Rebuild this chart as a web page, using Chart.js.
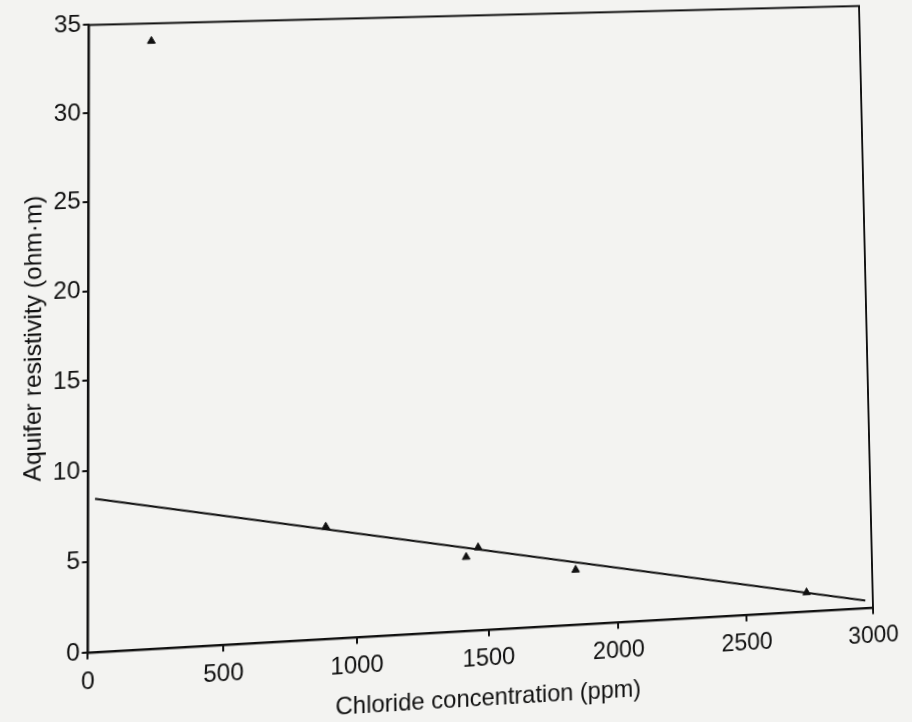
<!DOCTYPE html>
<html>
<head>
<meta charset="utf-8">
<script src="https://cdn.jsdelivr.net/npm/chart.js@4"></script>
<style>
  html, body { margin: 0; padding: 0; background: #f3f3f1; }
  #wrap { position: relative; width: 912px; height: 722px; overflow: hidden; }
  canvas { position: absolute; left: 0; top: 0; transform-origin: 0 0; }
</style>
</head>
<body>
<div id="wrap"><canvas id="chart" width="912" height="722"></canvas></div>
<script>
// data
const pointX = [234, 885, 1417, 1463, 1837, 2738];
const pointY = [34.0, 6.25, 4.15, 4.65, 3.1, 1.1];
const fitX = [25, 2970];
const fitY = [8.45, 0.45];
const xTickValues = [0, 500, 1000, 1500, 2000, 2500, 3000];
const yTickValues = [0, 5, 10, 15, 20, 25, 30, 35];
const xTitle = 'Chloride concentration (ppm)';
const yTitle = 'Aquifer resistivity (ohm·m)';

// page corners of the plot box in the (tilted) scan: TL, TR, BR, BL
const boxCorners = [[89, 25], [859, 6], [873, 608], [88, 653]];

const ink = '#111';
const font = { family: '"Liberation Sans", Arial, sans-serif', size: 24 };

// draws the closed box round the plot
const framePlugin = {
  id: 'frame',
  afterDraw(chart) {
    const { ctx, chartArea: a } = chart;
    ctx.save();
    ctx.strokeStyle = ink;
    ctx.lineWidth = 2;
    ctx.strokeRect(a.left, a.top, a.right - a.left, a.bottom - a.top);
    ctx.restore();
  }
};

function axisOpts(min, max, values, title, pad) {
  return {
    type: 'linear',
    min: min,
    max: max,
    afterBuildTicks: axis => { axis.ticks = values.map(v => ({ value: v })); },
    ticks: { font: font, color: ink, padding: pad, maxRotation: 0, callback: v => String(v) },
    grid: { display: true, drawOnChartArea: false, drawTicks: true, tickLength: 6, color: ink, lineWidth: 2 },
    border: { display: true, color: ink, width: 2 },
    title: { display: true, text: title, font: font, color: ink, padding: { top: 2, bottom: 2 } }
  };
}

// solve A x = b (gauss, partial pivot)
function solve(A, b) {
  const n = b.length;
  const M = A.map((r, i) => r.concat([b[i]]));
  for (let c = 0; c < n; c++) {
    let p = c;
    for (let r = c + 1; r < n; r++) if (Math.abs(M[r][c]) > Math.abs(M[p][c])) p = r;
    [M[c], M[p]] = [M[p], M[c]];
    for (let r = 0; r < n; r++) {
      if (r === c) continue;
      const f = M[r][c] / M[c][c];
      for (let k = c; k <= n; k++) M[r][k] -= f * M[c][k];
    }
  }
  return M.map((r, i) => r[n] / r[i]);
}

// css matrix3d taking 4 src points onto 4 dst points
function homography(src, dst) {
  const A = [], b = [];
  for (let i = 0; i < 4; i++) {
    const [x, y] = src[i], [X, Y] = dst[i];
    A.push([x, y, 1, 0, 0, 0, -x * X, -y * X]); b.push(X);
    A.push([0, 0, 0, x, y, 1, -x * Y, -y * Y]); b.push(Y);
  }
  const h = solve(A, b);
  return `matrix3d(${h[0]},${h[3]},0,${h[6]},${h[1]},${h[4]},0,${h[7]},0,0,1,0,${h[2]},${h[5]},0,1)`;
}

const canvas = document.getElementById('chart');
const chart = new Chart(canvas.getContext('2d'), {
  type: 'scatter',
  data: {
    datasets: [
      {
        label: 'fit',
        data: fitX.map((x, i) => ({ x: x, y: fitY[i] })),
        showLine: true,
        borderColor: ink,
        borderWidth: 2,
        pointRadius: 0,
        fill: false
      },
      {
        label: 'samples',
        data: pointX.map((x, i) => ({ x: x, y: pointY[i] })),
        pointStyle: 'triangle',
        pointRadius: 4.5,
        backgroundColor: ink,
        borderColor: ink,
        borderWidth: 1
      }
    ]
  },
  options: {
    responsive: false,
    animation: false,
    devicePixelRatio: 1,
    layout: { padding: { left: 6, right: 40, top: 12, bottom: 8 } },
    plugins: { legend: { display: false }, tooltip: { enabled: false } },
    scales: {
      x: axisOpts(0, 3000, xTickValues, xTitle, 8),
      y: axisOpts(0, 35, yTickValues, yTitle, 2)
    }
  },
  plugins: [framePlugin]
});

// tilt the whole drawing like the scanned page
const a = chart.chartArea;
const src = [[a.left, a.top], [a.right, a.top], [a.right, a.bottom], [a.left, a.bottom]];
canvas.style.transform = homography(src, boxCorners);
</script>
</body>
</html>
